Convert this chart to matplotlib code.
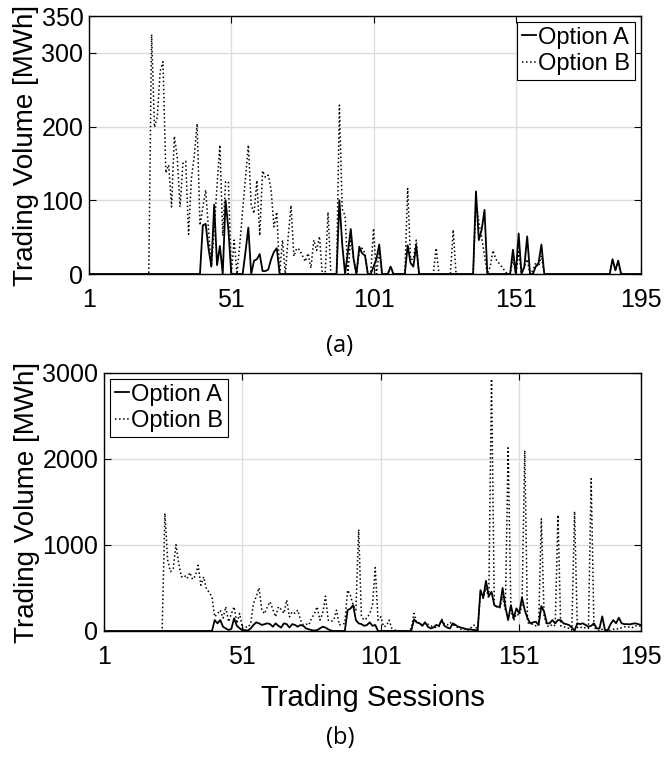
import numpy as np
import matplotlib.pyplot as plt

plt.rcParams['font.family'] = ['Liberation Sans', 'DejaVu Sans']

sessions = np.arange(1, 196)

# (a) traded volume per session [MWh]
vol_a_opt_a = ([0] * 40 +
               [66, 68, 35, 10, 94, 12, 38, 0, 100, 60,          # 41-50
                0, 0, 0, 0, 0, 30, 63, 0, 18, 20,                # 51-60
                27, 4, 4, 6, 20, 30, 35, 0] +                    # 61-68
               [0] * 20 +                                        # 69-88
               [100, 40, 0, 30, 61, 20, 0, 37, 28, 25,           # 89-98
                0, 0, 10, 20, 40, 0, 0, 0, 10, 0,                # 99-108
                0, 0, 0, 0, 39, 15, 10, 39] +                    # 109-116
               [0] * 20 +                                        # 117-136
               [112, 46, 60, 87, 0, 0, 0, 0, 0, 0,               # 137-146
                0, 0, 0, 33, 0, 55, 0, 10, 51, 0,                # 147-156
                0, 10, 15, 40] +                                 # 157-160
               [0] * 24 +                                        # 161-184
               [20, 5, 18] + [0] * 8)                            # 185-195

vol_a_opt_b = ([0] * 22 +
               [325, 199, 213, 275, 288, 137, 148, 91,           # 23-30
                187, 159, 91, 150, 153, 54, 130, 160, 204, 66,   # 31-40
                90, 114, 60, 10, 60, 120, 175, 52, 125, 125,     # 41-50
                0, 46, 0, 40, 87, 130, 175, 94, 82, 127,         # 51-60
                52, 140, 131, 134, 114, 64, 84, 0, 46, 0,        # 61-70
                50, 93, 24, 35, 33, 25, 17, 28, 8, 46,           # 71-80
                32, 51, 0, 0, 84, 0, 0, 0, 229, 88,              # 81-90
                79, 0, 50, 20, 0, 30, 35, 28, 0, 0,              # 91-100
                62, 0, 30, 0, 0, 0, 10, 0, 0, 0,                 # 101-110
                0, 0, 116, 20, 20, 46, 0, 0, 0, 0,               # 111-120
                0, 0, 35, 0, 0, 0, 0, 0, 60, 0,                  # 121-130
                0, 0, 0, 0, 0, 0, 100, 70, 50, 25,               # 131-140
                0, 10, 32, 20, 15, 10, 5, 0, 0, 20,              # 141-150
                0, 30, 0, 10, 20, 0, 5, 15, 10, 25] +            # 151-160
               [0] * 24 +                                        # 161-184
               [20, 5, 18] + [0] * 8)                            # 185-195

# (b) traded volume per session [MWh]
vol_b_opt_a = ([0] * 40 +
               [127, 89, 127, 50, 30, 12, 23, 147, 60, 31,       # 41-50
                10, 10, 5, 30, 70, 100, 89, 70, 80, 89,          # 51-60
                80, 50, 89, 60, 40, 89, 80, 40, 80, 70,          # 61-70
                50, 70, 60, 30, 20, 10, 5, 10, 30, 50,           # 71-80
                40, 20, 5, 0, 0, 0, 0, 0, 243, 260,              # 81-90
                300, 127, 89, 80, 60, 70, 100, 60, 70] +         # 91-99
               [0] * 13 +                                        # 100-112
               [135, 100, 89, 60, 100, 50, 30, 40,               # 113-120
                70, 60, 127, 60, 40, 30, 89, 70, 50, 40,         # 121-130
                30, 20, 20, 15, 10, 10, 475, 388, 583, 405,      # 131-140
                455, 300, 282, 282, 500, 282, 127, 300, 147, 263,  # 141-150
                205, 388, 243, 150, 89, 100, 108, 70, 290, 224,  # 151-160
                89, 89, 127, 89, 127, 127, 89, 80, 70, 40,       # 161-170
                5, 89, 80, 89, 70, 50, 60, 89, 30, 30,           # 171-180
                170, 10, 10, 80, 127, 89, 155, 89, 80, 80,       # 181-190
                77, 85, 89, 80, 70])                             # 191-195

vol_b_opt_b = ([0] * 22 +
               [1370, 822, 690, 720, 1004, 784, 629, 648,        # 23-30
                610, 680, 600, 640, 764, 532, 629, 490, 450, 397,  # 31-40
                165, 200, 243, 150, 282, 108, 200, 282, 89, 205,   # 41-50
                31, 50, 40, 89, 320, 400, 502, 243, 200, 280,    # 51-60
                340, 250, 165, 282, 250, 205, 360, 165, 224, 205,  # 61-70
                243, 127, 70, 80, 70, 150, 200, 282, 127, 200,   # 71-80
                405, 127, 110, 127, 243, 70, 80, 89, 475, 417,   # 81-90
                300, 243, 1181, 165, 127, 150, 205, 300, 737, 127,  # 91-100
                165, 50, 60, 127, 30, 10, 5, 0, 0, 0,            # 101-110
                5, 30, 205, 89, 100, 70, 100, 80, 60, 50,        # 111-120
                40, 50, 135, 80, 70, 100, 80, 50, 40, 20,        # 121-130
                30, 15, 10, 60, 70, 0, 450, 380, 500, 380,       # 131-140
                2930, 300, 280, 270, 400, 250, 2130, 250, 120, 200,  # 141-150
                180, 300, 2100, 100, 80, 80, 60, 60, 1305, 180,  # 151-160
                60, 50, 80, 60, 1350, 60, 50, 40, 30, 10,        # 161-170
                1390, 40, 50, 30, 40, 30, 1770, 40, 20, 0,       # 171-180
                20, 5, 0, 10, 20, 30, 20, 40, 50, 40,            # 181-190
                50, 40, 60, 50, 60])                             # 191-195

x_ticks = [1, 51, 101, 151, 195]

W, H = 664, 758
fig = plt.figure(figsize=(W / 100, H / 100), dpi=100)


def px_axes(left, top, right, bottom):
    return fig.add_axes([left / W, 1 - bottom / H, (right - left) / W, (bottom - top) / H])


def style(ax, yticks, ylim):
    ax.set_xlim(1, 195)
    ax.set_ylim(*ylim)
    ax.set_xticks(x_ticks)
    ax.set_yticks(yticks)
    ax.grid(True, color='#dcdcdc', linewidth=1.0)
    ax.set_axisbelow(True)
    ax.tick_params(direction='in', length=5, width=0.8, top=True, right=True,
                   labelsize=18, pad=4)
    ax.tick_params(axis='x', pad=10)
    for s in ax.spines.values():
        s.set_linewidth(1.0)
    ax.set_ylabel('Trading Volume [MWh]', fontsize=20, labelpad=2)


def add_legend(ax, loc):
    leg = ax.legend(loc=loc, fontsize=17, handlelength=0.6, handletextpad=0.1,
                    borderpad=0.2, labelspacing=0.2, borderaxespad=0.25,
                    fancybox=False, edgecolor='black', framealpha=1)
    leg.get_frame().set_linewidth(0.8)


ax1 = px_axes(89, 16, 641, 274)
ax1.plot(sessions, vol_a_opt_a, 'k-', lw=1.3, label='Option A')
ax1.plot(sessions, vol_a_opt_b, 'k:', lw=1.1, label='Option B')
style(ax1, [0, 100, 200, 300, 350], (0, 350))
add_legend(ax1, 'upper right')

ax2 = px_axes(104, 373, 641, 631)
ax2.plot(sessions, vol_b_opt_a, 'k-', lw=1.3, label='Option A')
ax2.plot(sessions, vol_b_opt_b, 'k:', lw=1.1, label='Option B')
style(ax2, [0, 1000, 2000, 3000], (0, 3000))
ax2.set_xlabel('Trading Sessions', fontsize=21, labelpad=11)
add_legend(ax2, 'upper left')

fig.text(340 / W, 1 - 346 / H, '(a)', ha='center', va='center', fontsize=17,
         family=['Open Sans', 'DejaVu Sans'])
fig.text(340 / W, 1 - 738 / H, '(b)', ha='center', va='center', fontsize=17,
         family=['Open Sans', 'DejaVu Sans'])

fig.savefig('out.png', dpi=100)
